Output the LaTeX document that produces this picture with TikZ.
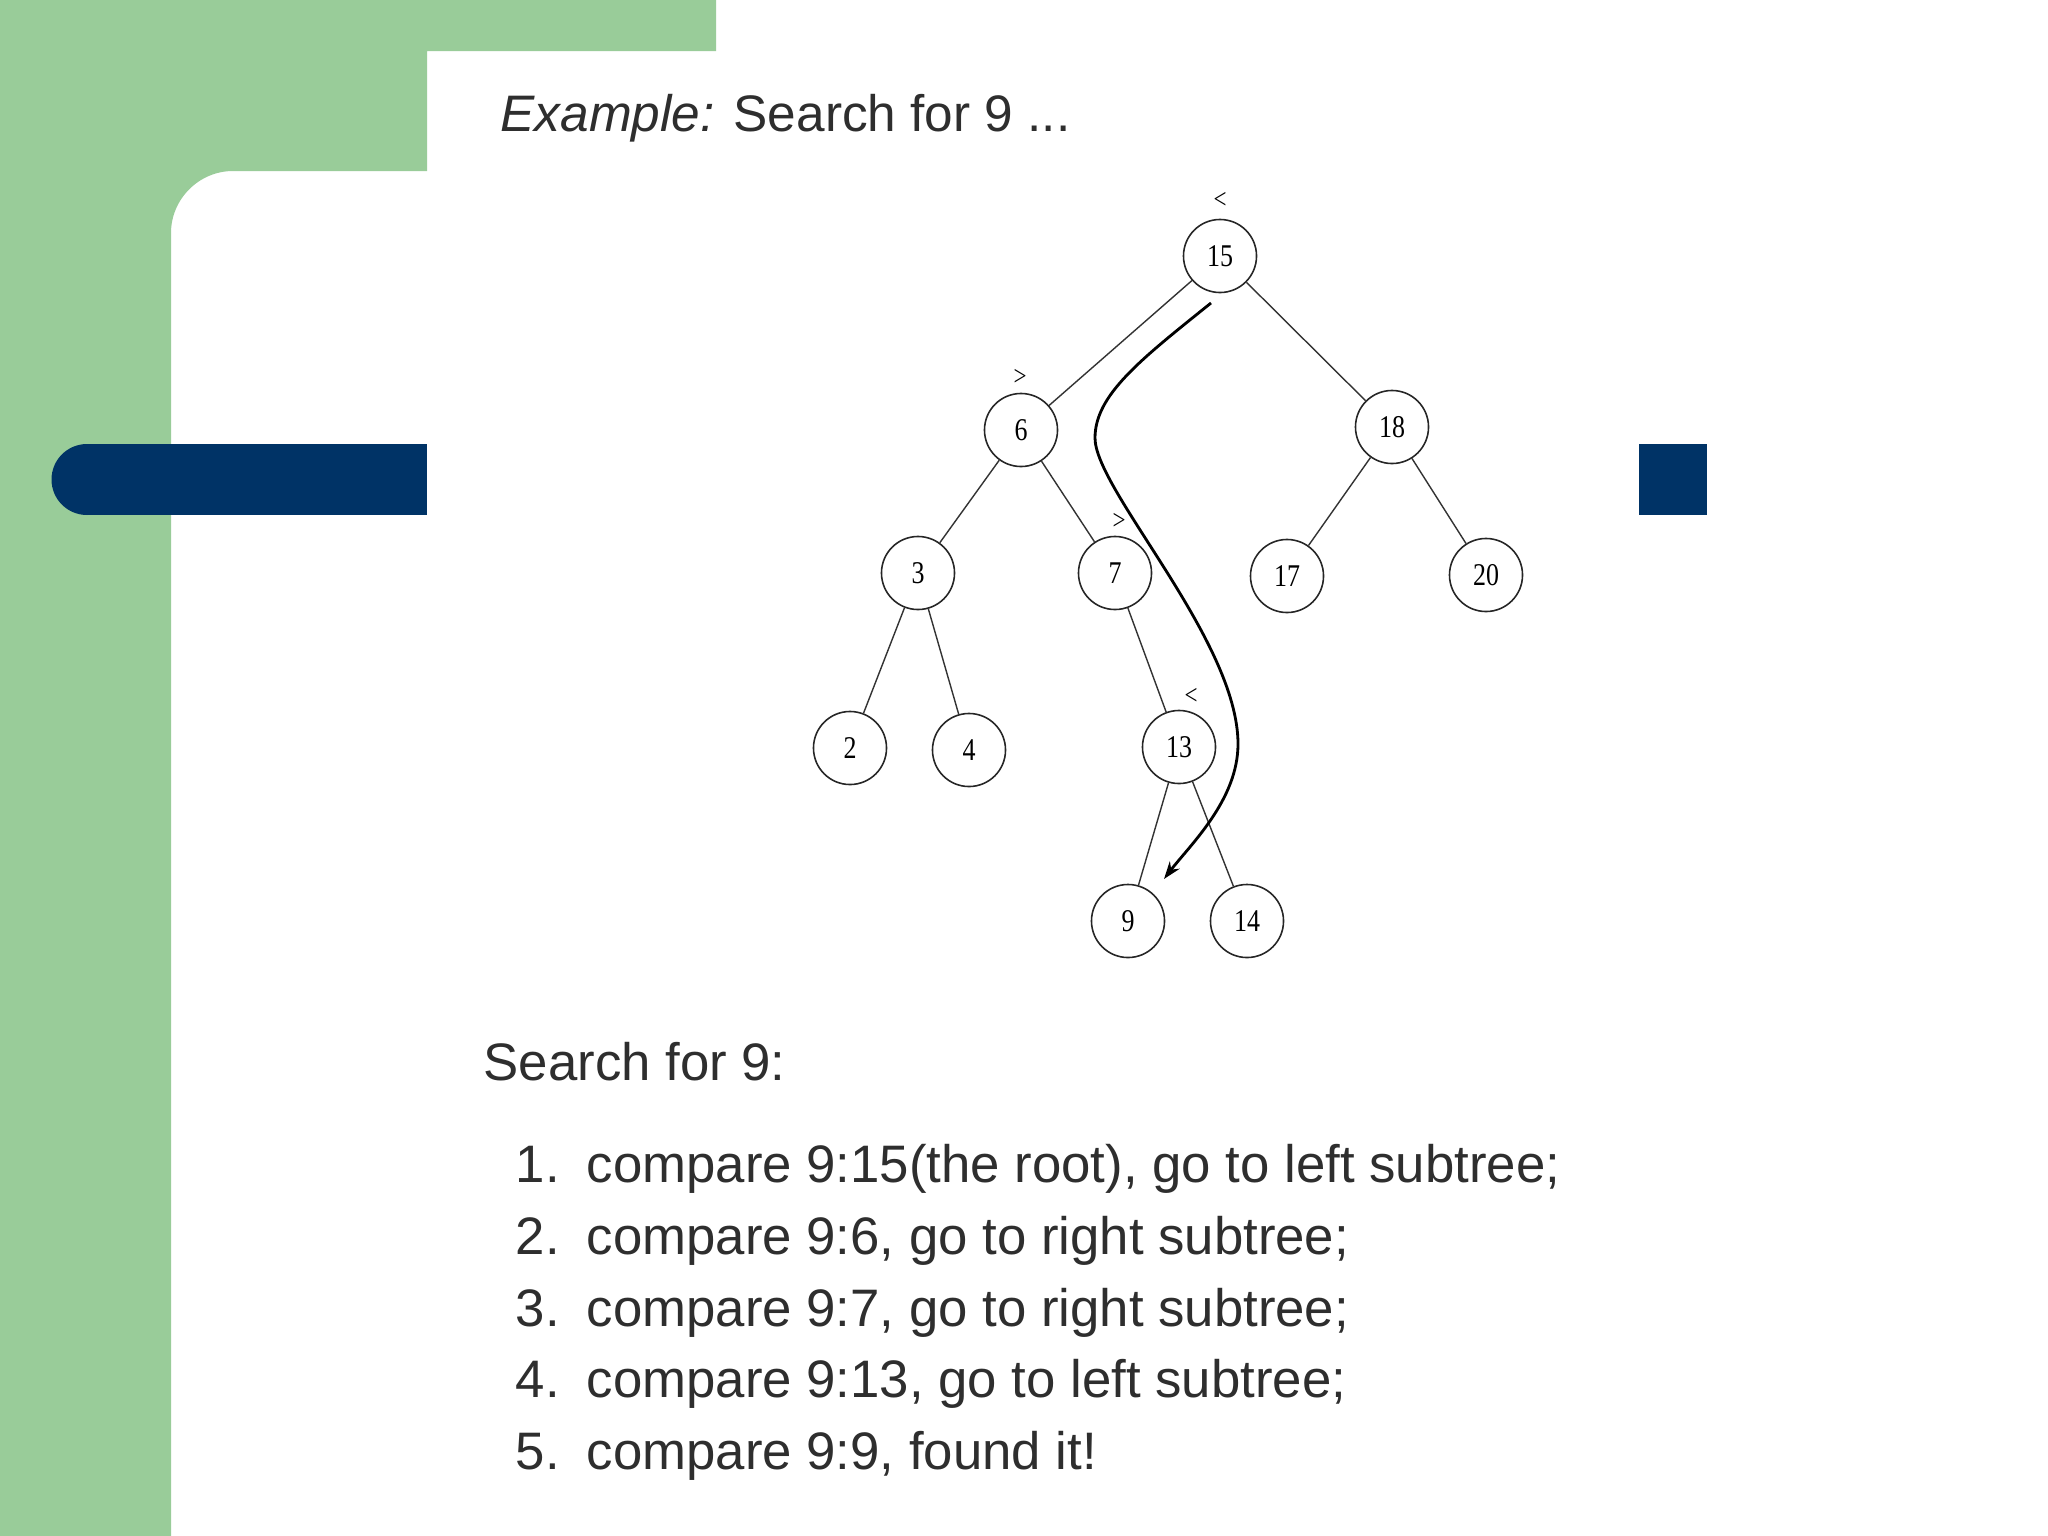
\documentclass[tikz,border=0pt]{standalone}
\usepackage{fontspec}
\setmainfont{Liberation Sans}
\newfontfamily\treefont[FakeStretch=0.82]{Liberation Serif}
\usetikzlibrary{arrows.meta}
\definecolor{slgreen}{RGB}{153,204,153}
\definecolor{slnavy}{RGB}{0,51,102}
\begin{document}
\begin{tikzpicture}[x=0.01cm,y=-0.01cm,
  tnode/.style={circle,draw=black!85,line width=0.45pt,minimum size=0.73cm,inner sep=0pt,font=\treefont\fontsize{9}{9}\selectfont},
  tedge/.style={draw=black!80,line width=0.4pt},
  cmp/.style={font=\treefont\fontsize{8}{8}\selectfont,inner sep=0pt},
  body/.style={font=\fontsize{15}{18}\selectfont,anchor=base west,inner sep=0pt,text=black!82},
  titletext/.style={font=\fontsize{14.6}{18}\selectfont,anchor=base west,inner sep=0pt,text=black!82},
  path/.style={draw=black,line width=0.8pt,-{Stealth[length=5pt,width=3.5pt]}}
]
\useasboundingbox (0,0) rectangle (2048,1536);
\fill[white] (0,0) rectangle (2048,1536);
% background decoration
\fill[slgreen] (0,0) -- (716,0) -- (716,51) -- (427,51) -- (427,171) -- (233,171)
  .. controls (199,171) and (171,199) .. (171,233) -- (171,1536) -- (0,1536) -- cycle;
\fill[slnavy] (87,479.5) circle[radius=35.5];
\fill[slnavy] (87,444) rectangle (427,515);
\fill[slnavy] (1639,444) rectangle (1707,515);

% title
\node[titletext] (title) at (500,131) {\textit{Example:} Search for 9 ...};

% tree nodes
\node[tnode] (n15) at (1220,256) {15};
\node[tnode] (n6)  at (1021,430) {6};
\node[tnode] (n18) at (1392,427) {18};
\node[tnode] (n3)  at (918,573) {3};
\node[tnode] (n7)  at (1115,573) {7};
\node[tnode] (n17) at (1287,576) {17};
\node[tnode] (n20) at (1486,575) {20};
\node[tnode] (n2)  at (850,748) {2};
\node[tnode] (n4)  at (969,750) {4};
\node[tnode] (n13) at (1179,747) {13};
\node[tnode] (n9)  at (1128,921) {9};
\node[tnode] (n14) at (1247,921) {14};

% tree edges
\draw[tedge] (n15) -- (n6);
\draw[tedge] (n15) -- (n18);
\draw[tedge] (n6) -- (n3);
\draw[tedge] (n6) -- (n7);
\draw[tedge] (n18) -- (n17);
\draw[tedge] (n18) -- (n20);
\draw[tedge] (n3) -- (n2);
\draw[tedge] (n3) -- (n4);
\draw[tedge] (n7) -- (n13);
\draw[tedge] (n13) -- (n9);
\draw[tedge] (n13) -- (n14);

% comparison marks
\node[cmp] (c15) at (1220,200) {<};
\node[cmp] (c6)  at (1020,377) {>};
\node[cmp] (c7)  at (1119,521) {>};
\node[cmp] (c13) at (1191,696) {<};

% search path
\coordinate (pstart) at (1211,303);
\coordinate (pend) at (1164,879);
\draw[path] (pstart) .. controls (1140,360) and (1095,395) .. (1095,438)
  .. controls (1095,490) and (1238,640) .. (1238,744)
  .. controls (1238,800) and (1190,845) .. (pend);

% explanation text
\node[body] (head) at (483,1080) {Search for 9:};
\node[body] (k1) at (515,1182) {1.};
\node[body] (t1) at (586,1182) {compare 9:15(the root), go to left subtree;};
\node[body] (k2) at (515,1254) {2.};
\node[body] (t2) at (586,1254) {compare 9:6, go to right subtree;};
\node[body] (k3) at (515,1326) {3.};
\node[body] (t3) at (586,1326) {compare 9:7, go to right subtree;};
\node[body] (k4) at (515,1397) {4.};
\node[body] (t4) at (586,1397) {compare 9:13, go to left subtree;};
\node[body] (k5) at (515,1469) {5.};
\node[body] (t5) at (586,1469) {compare 9:9, found it!};
\end{tikzpicture}
\end{document}
